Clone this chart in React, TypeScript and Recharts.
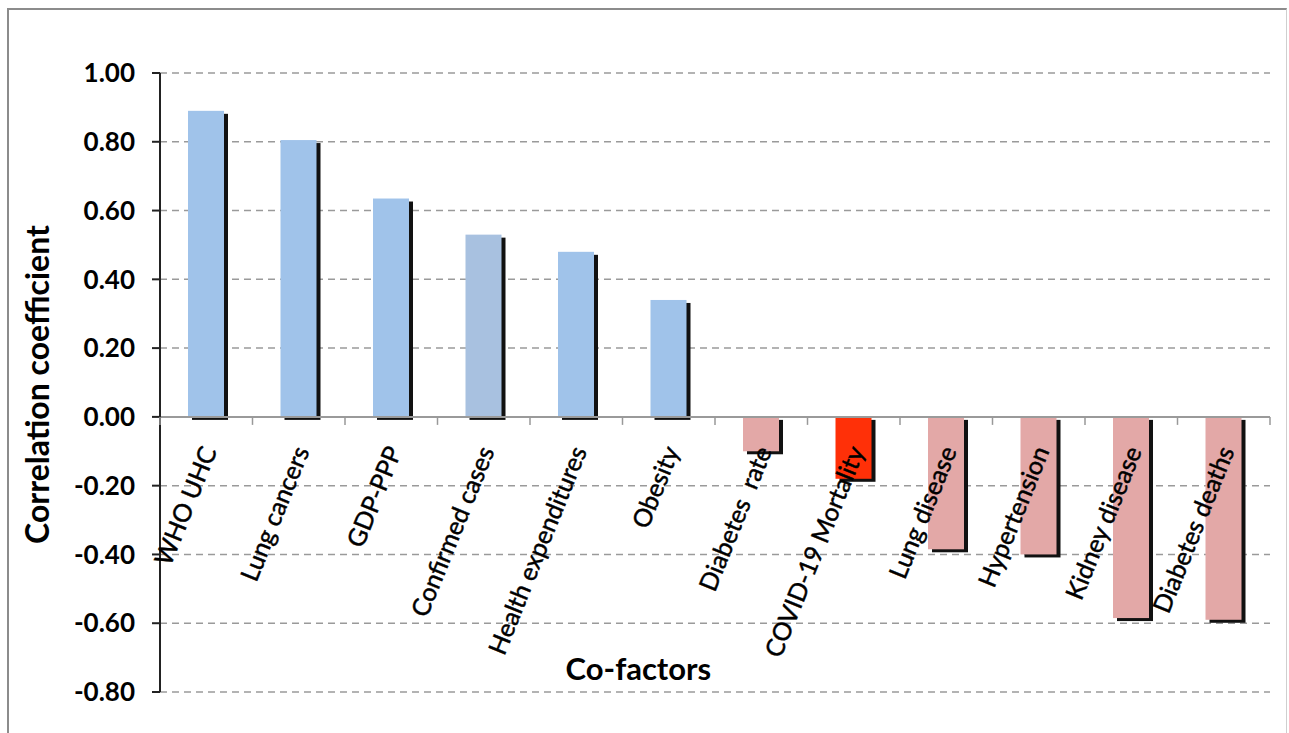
import React from "react"
import { BarChart, Bar, Cell, XAxis, YAxis, CartesianGrid, ReferenceLine } from "recharts"

document.body.style.margin = "0"

const categories = [
  "WHO UHC",
  "Lung cancers",
  "GDP-PPP",
  "Confirmed cases",
  "Health expenditures",
  "Obesity",
  "Diabetes  rate",
  "COVID-19 Mortality",
  "Lung disease",
  "Hypertension",
  "Kidney disease",
  "Diabetes deaths",
]
const coefficients = [0.89, 0.805, 0.635, 0.53, 0.48, 0.34, -0.1, -0.18, -0.385, -0.4, -0.585, -0.59]
const barColors = [
  "#A0C3EA",
  "#A0C3EA",
  "#A0C3EA",
  "#A8C1E0",
  "#A0C3EA",
  "#A0C3EA",
  "#E3A8A7",
  "#FF3008",
  "#E3A8A7",
  "#E3A8A7",
  "#E3A8A7",
  "#E3A8A7",
]
const yTicks = [-0.8, -0.6, -0.4, -0.2, 0, 0.2, 0.4, 0.6, 0.8, 1.0]

const W = 1289
const H = 733
const TOP = 73
const BOTTOM = 692
const LEFT = 160
const RIGHT = 1270
const Y_MIN = -0.8
const Y_MAX = 1.0
const ZERO_Y = TOP + ((BOTTOM - TOP) * (Y_MAX - 0)) / (Y_MAX - Y_MIN)
const BAND = (RIGHT - LEFT) / categories.length

const FONT = "Lato, 'Open Sans', sans-serif"

const rows = categories.map((name, i) => ({ name, value: coefficients[i] }))

function ShadowBar(props: any) {
  let { x, y, width, height, fill } = props
  if (height < 0) {
    y = y + height
    height = -height
  }
  return (
    <g>
      <rect x={x + 4} y={y + 3} width={width} height={height} fill="#111" />
      <rect x={x} y={y} width={width} height={height} fill={fill} />
    </g>
  )
}

function CategoryTick(props: any) {
  const { x, payload, index } = props
  const ax = x + 11
  const ay = ZERO_Y + 34
  return (
    <g>
      <line x1={x - BAND / 2} x2={x - BAND / 2} y1={ZERO_Y} y2={ZERO_Y + 8} stroke="#999" strokeWidth={1.5} />
      {index === categories.length - 1 && (
        <line x1={x + BAND / 2} x2={x + BAND / 2} y1={ZERO_Y} y2={ZERO_Y + 8} stroke="#999" strokeWidth={1.5} />
      )}
      <text
        x={ax}
        y={ay}
        textAnchor="end"
        transform={`rotate(-68 ${ax} ${ay})`}
        fontFamily={FONT}
        fontSize={25}
        fill="#000"
        stroke="#000"
        strokeWidth={0.45}
        style={{ whiteSpace: "pre" }}
      >
        {payload.value}
      </text>
    </g>
  )
}

export default function App() {
  return (
    <div style={{ position: "relative", width: W, height: H, overflow: "hidden", background: "#fff" }}>
      <div
        style={{
          position: "absolute",
          left: 7,
          top: 8,
          width: 1280,
          height: 760,
          borderTop: "2px solid #8c8c8c",
          borderLeft: "2px solid #8c8c8c",
          borderRight: "1px solid #cfcfcf",
          boxSizing: "border-box",
        }}
      />
      <div style={{ position: "absolute", left: 0, top: 0 }}>
        <BarChart width={W} height={H} data={rows} margin={{ top: TOP, right: W - RIGHT, bottom: H - BOTTOM - 30, left: 0 }}>
          <CartesianGrid vertical={false} stroke="#9a9a9a" strokeDasharray="7 5" strokeWidth={1.5} />
          <XAxis
            dataKey="name"
            height={30}
            axisLine={false}
            tickLine={false}
            interval={0}
            tick={<CategoryTick />}
            label={{
              content: (p: any) => {
                const vb = p.viewBox
                return (
                  <text
                    x={vb.x + vb.width * 0.431}
                    y={ZERO_Y + 263}
                    textAnchor="middle"
                    fontFamily={FONT}
                    fontWeight="bold"
                    fontSize={31}
                    fill="#000"
                  >
                    Co-factors
                  </text>
                )
              },
            }}
          />
          <YAxis
            width={LEFT}
            domain={[Y_MIN, Y_MAX]}
            ticks={yTicks}
            interval={0}
            tickFormatter={(v: number) => v.toFixed(2)}
            axisLine={{ stroke: "#222", strokeWidth: 2 }}
            tickLine={{ stroke: "#222", strokeWidth: 2 }}
            tickSize={8}
            tickMargin={17}
            tick={{ fontFamily: FONT, fontWeight: "bold", fontSize: 26, fill: "#000" }}
            label={{
              content: (p: any) => {
                const vb = p.viewBox
                const cx = 36
                const cy = vb.y + vb.height / 2 + 2
                return (
                  <text
                    x={cx}
                    y={cy}
                    textAnchor="middle"
                    dominantBaseline="central"
                    transform={`rotate(-90 ${cx} ${cy})`}
                    fontFamily={FONT}
                    fontWeight="bold"
                    fontSize={32}
                    fill="#000"
                  >
                    Correlation coefficient
                  </text>
                )
              },
            }}
          />
          <ReferenceLine y={0} stroke="#9a9a9a" strokeWidth={2} />
          <Bar dataKey="value" barSize={36} shape={<ShadowBar />} isAnimationActive={false}>
            {rows.map((r, i) => (
              <Cell key={r.name} fill={barColors[i]} />
            ))}
          </Bar>
        </BarChart>
      </div>
    </div>
  )
}
